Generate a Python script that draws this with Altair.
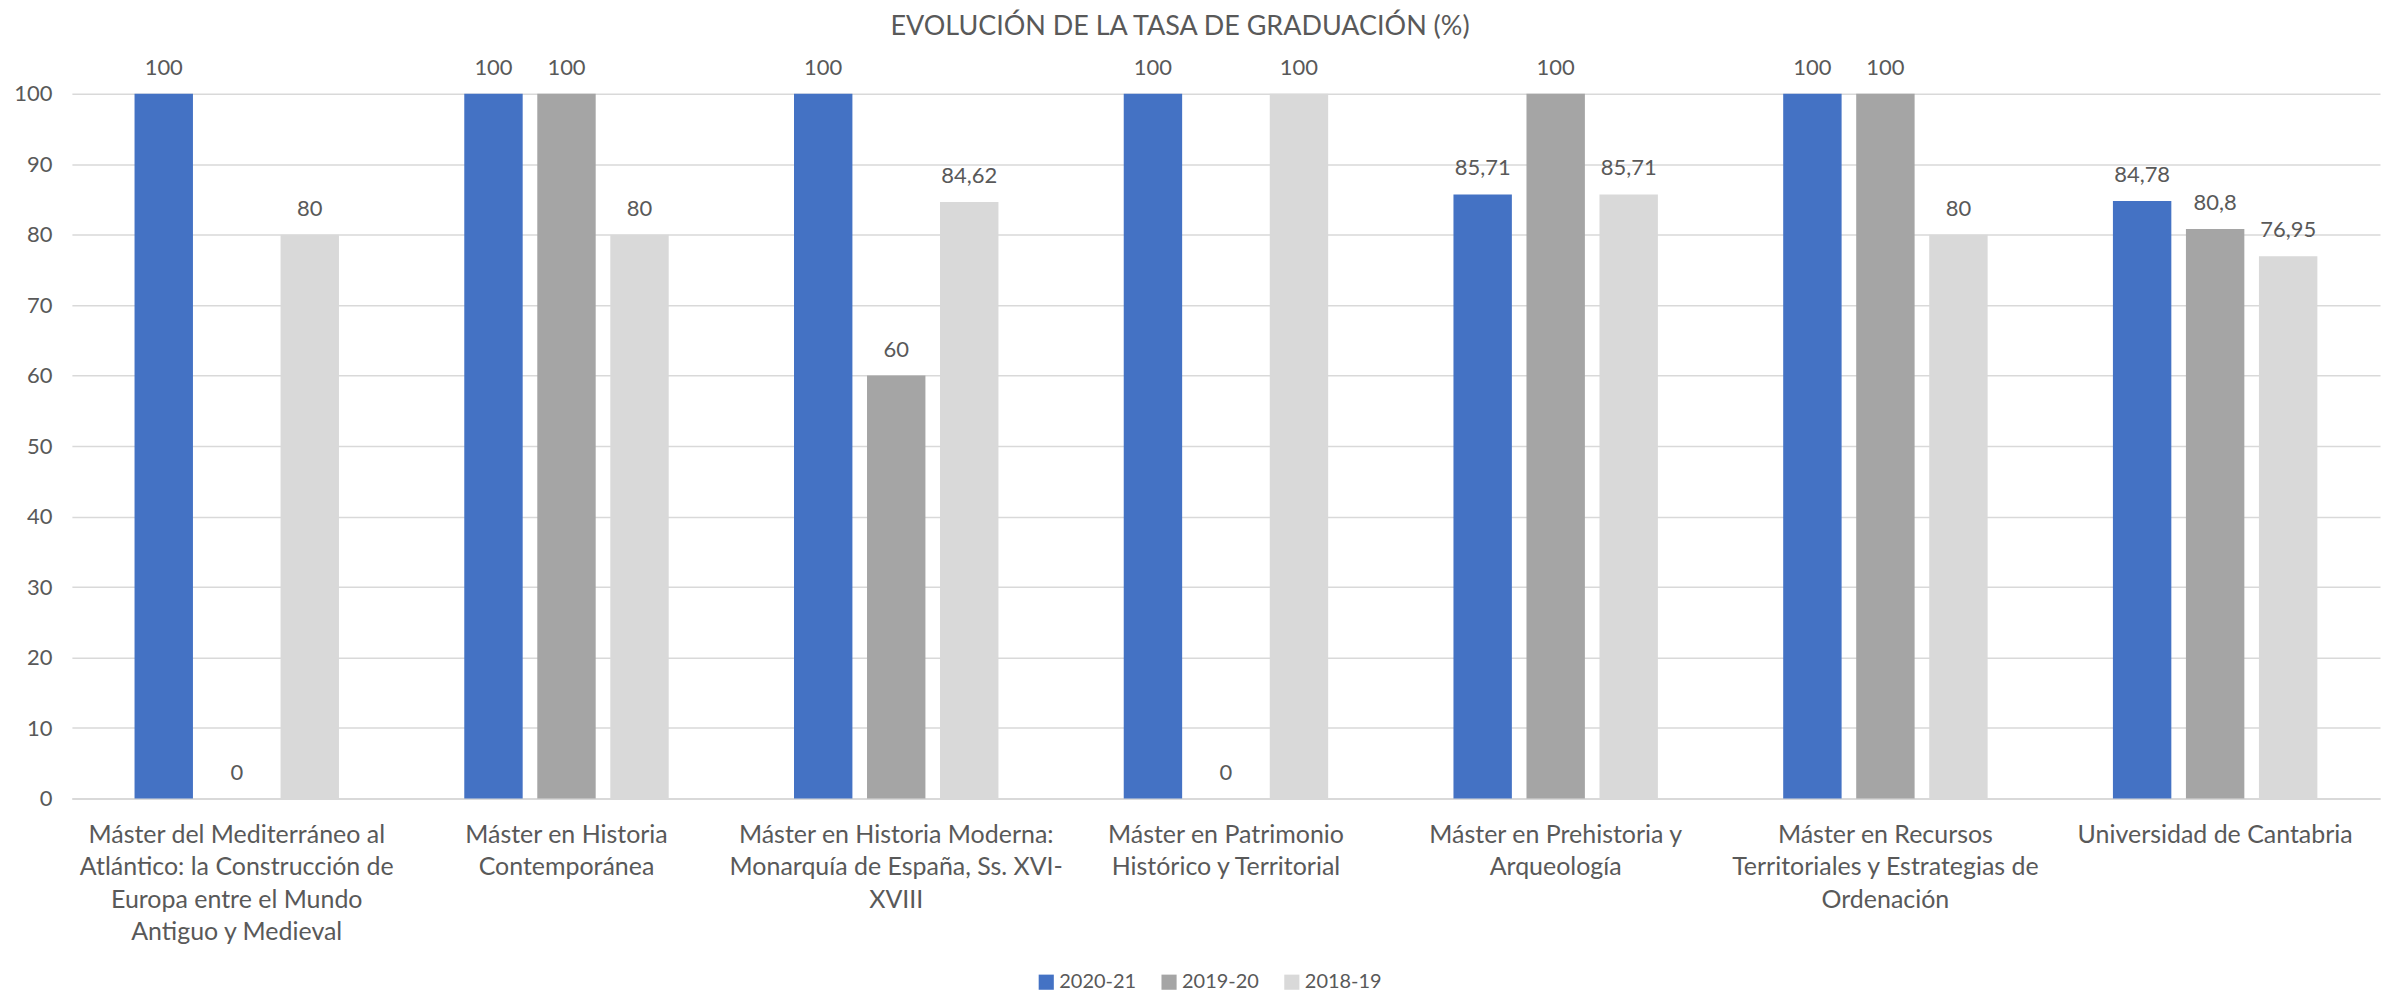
import altair as alt
import pandas as pd

categories = [
    "Máster del Mediterráneo al\nAtlántico: la Construcción de\nEuropa entre el Mundo\nAntiguo y Medieval",
    "Máster en Historia\nContemporánea",
    "Máster en Historia Moderna:\nMonarquía de España, Ss. XVI-\nXVIII",
    "Máster en Patrimonio\nHistórico y Territorial",
    "Máster en Prehistoria y\nArqueología",
    "Máster en Recursos\nTerritoriales y Estrategias de\nOrdenación",
    "Universidad de Cantabria",
]
series = ["2020-21", "2019-20", "2018-19"]
v_2020_21 = [100, 100, 100, 100, 85.71, 100, 84.78]
v_2019_20 = [0, 100, 60, 0, 100, 100, 80.8]
v_2018_19 = [80, 80, 84.62, 100, 85.71, 80, 76.95]
colors = ["#4472C4", "#A5A5A5", "#D9D9D9"]

rows = []
for s, vals in zip(series, [v_2020_21, v_2019_20, v_2018_19]):
    for c, v in zip(categories, vals):
        rows.append({"cat": c, "serie": s, "value": v})
df = pd.DataFrame(rows)

FONT = "Lato"
TXT = "#595959"

base = alt.Chart(df).encode(
    x=alt.X("cat:N", sort=categories, title=None,
            scale=alt.Scale(paddingInner=0.38, paddingOuter=0.19),
            axis=alt.Axis(labelAngle=0, labelExpr="split(datum.label, '\\n')",
                          labelFontSize=25, labelColor=TXT, labelFont=FONT,
                          labelLineHeight=32.5, labelBaseline="top", labelPadding=24,
                          labelLimit=0, ticks=False, domainColor="#D9D9D9",
                          domainWidth=2)),
    xOffset=alt.XOffset("serie:N", sort=series,
                        scale=alt.Scale(paddingInner=0.2, paddingOuter=0)),
)

bars = base.mark_bar().encode(
    y=alt.Y("value:Q", title=None,
            scale=alt.Scale(domain=[0, 100]),
            axis=alt.Axis(values=list(range(0, 101, 10)), labelFontSize=22,
                          labelColor=TXT, labelFont=FONT, ticks=False, domain=False,
                          gridColor="#D9D9D9", gridWidth=1.5, labelPadding=20)),
    color=alt.Color("serie:N", sort=series,
                    scale=alt.Scale(domain=series, range=colors),
                    legend=alt.Legend(title=None, orient="none", direction="horizontal",
                                      legendX=966, legendY=880, symbolType="square",
                                      symbolSize=230, symbolStrokeWidth=0,
                                      labelFontSize=20, labelColor=TXT, labelFont=FONT,
                                      columnPadding=22, symbolOffset=0, labelOffset=3)),
)

labels = base.transform_calculate(
    lab="replace(toString(datum.value), '.', ',')"
).mark_text(baseline="bottom", dy=-14, fontSize=22, font=FONT, color=TXT).encode(
    y=alt.Y("value:Q"),
    text="lab:N",
)

chart = alt.layer(bars, labels).properties(
    width=2312, height=706,
    autosize=alt.AutoSizeParams(type="none"),
    padding={"left": 64, "top": 85, "right": 4, "bottom": 196},
    title=alt.TitleParams("EVOLUCIÓN DE LA TASA DE GRADUACIÓN (%)", font=FONT,
                          fontSize=27, fontWeight="normal", color=TXT,
                          anchor="middle", offset=16, dx=-46),
).configure_view(stroke=None)

chart.save("out.html", embed_options={"renderer": "svg", "actions": False})
